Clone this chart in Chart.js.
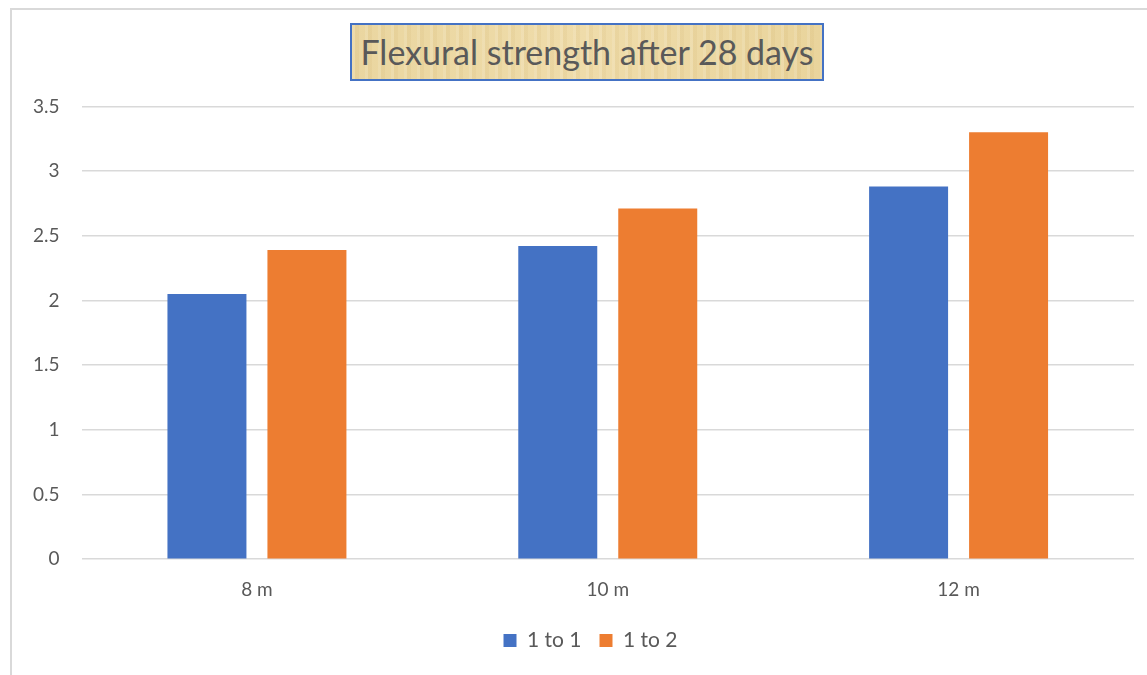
<!DOCTYPE html>
<html>
<head>
<meta charset="utf-8">
<script src="https://cdn.jsdelivr.net/npm/chart.js@4/dist/chart.umd.min.js"></script>
<style>
  body { margin: 0; background: #fff; overflow: hidden; }
  #marco {
    position: absolute; left: 10px; top: 8px; width: 1200px; height: 720px;
    border-left: 2px solid #d9d9d9; border-top: 2px solid #d9d9d9;
  }
  #titulo {
    position: absolute; left: 350px; top: 23px; width: 470px; height: 54px;
    border: 2px solid #4472c4;
    background:
      repeating-linear-gradient(90deg, rgba(255,255,255,0.12) 0 3px, rgba(180,140,60,0.08) 3px 7px, rgba(255,255,255,0) 7px 13px),
      linear-gradient(90deg, #ead6a0, #efdcaa 50%, #e9d49c);
    font-family: Lato, "Noto Sans", sans-serif; font-size: 34px; color: #595959;
    text-align: center; line-height: 54px; white-space: nowrap;
  }
  #lienzo { position: absolute; left: 11px; top: 73px; width: 1136px; height: 602px; }
</style>
</head>
<body>
<div id="marco"></div>
<div id="titulo">Flexural strength after 28 days</div>
<div id="lienzo"><canvas id="grafica"></canvas></div>
<script>
// datos
const categorias = ["8 m", "10 m", "12 m"];
const unoAuno = [2.05, 2.42, 2.88];
const unoAdos = [2.39, 2.71, 3.30];
const nombres = ["1 to 1", "1 to 2"];

const gris = "#595959";
const fuente = "Lato, 'Noto Sans', sans-serif";

// mueve la leyenda un poco a la derecha, como en el original
const moverLeyenda = {
  id: "moverLeyenda",
  afterLayout(chart) {
    if (chart.legend) {
      chart.legend.left += 18;
      chart.legend.right += 18;
    }
  },
};

const grafica = document.getElementById("grafica");
const data = {
  labels: categorias,
  datasets: [
    { label: nombres[0], data: unoAuno, backgroundColor: "#4472c4" },
    { label: nombres[1], data: unoAdos, backgroundColor: "#ed7d31" },
  ],
};

const config = {
  type: "bar",
  data: data,
  plugins: [moverLeyenda],
  options: {
    responsive: true,
    maintainAspectRatio: false,
    animation: false,
    layout: { padding: { top: 10, right: 13, left: 0, bottom: 14 } },
    datasets: { bar: { categoryPercentage: 0.57, barPercentage: 0.79 } },
    plugins: {
      tooltip: { enabled: false },
      legend: {
        position: "bottom",
        labels: {
          color: gris, font: { family: fuente, size: 21 },
          boxWidth: 13, boxHeight: 13, padding: 18,
        },
      },
    },
    scales: {
      x: {
        grid: { display: false },
        border: { display: false },
        ticks: { color: gris, font: { family: fuente, size: 19 }, padding: 11 },
      },
      y: {
        min: 0, max: 3.5,
        border: { display: false },
        grid: { color: "#d9d9d9", lineWidth: 1.5, drawTicks: false },
        ticks: {
          stepSize: 0.5, color: gris, font: { family: fuente, size: 19 }, padding: 22,
          callback: (v) => String(v),
        },
      },
    },
  },
};
new Chart(grafica, config);
</script>
</body>
</html>
